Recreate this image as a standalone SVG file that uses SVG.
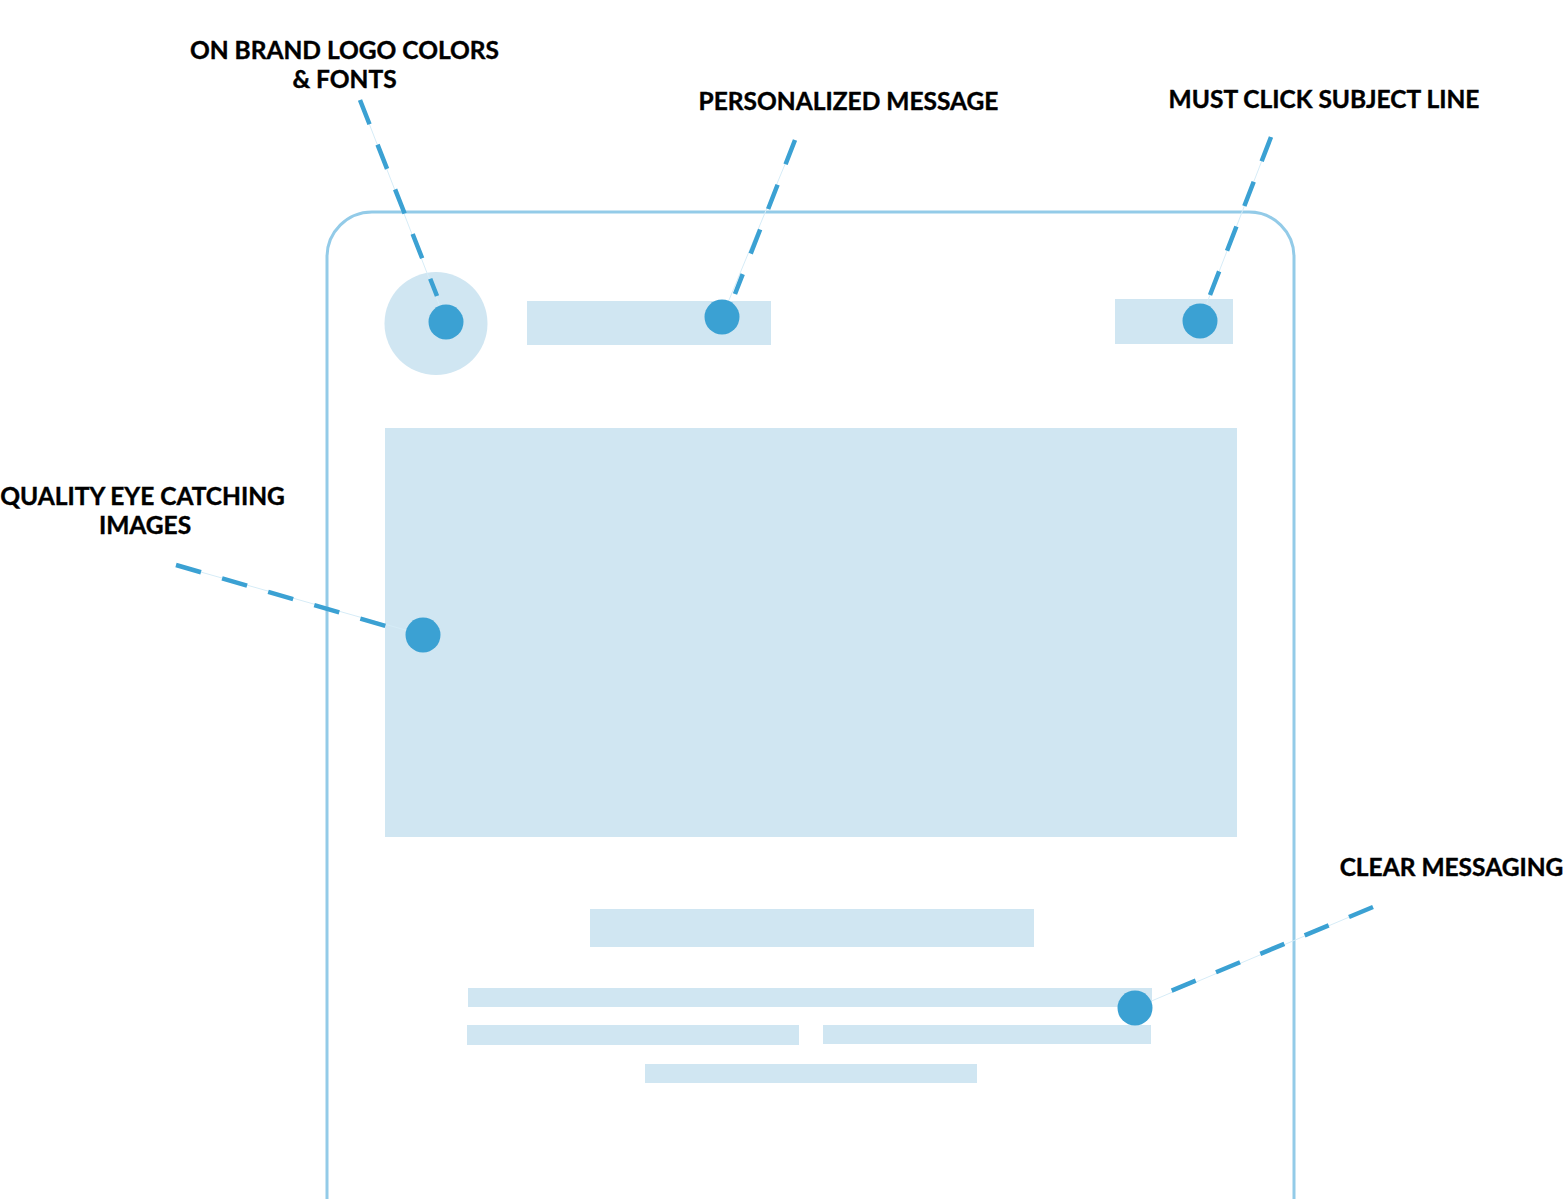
<svg xmlns="http://www.w3.org/2000/svg" width="1563" height="1199" viewBox="0 0 1563 1199">
<style>
.lbl{font-family:Lato,"Liberation Sans",sans-serif;font-weight:700;font-size:24.5px;fill:#000;text-anchor:middle;stroke:#000;stroke-width:0.4}
.blk{fill:#D0E6F2}
.dot{fill:#3BA1D3}
.lead{stroke:#3BA1D3;stroke-width:4.5;stroke-dasharray:26 22;fill:none}
.hair{stroke:#D6ECF7;stroke-width:1;fill:none}
</style>
<rect width="1563" height="1199" fill="#fff"/>
<g id="phone">
<path d="M327,1199 V257 A45,45 0 0 1 372,212 H1249 A45,45 0 0 1 1294,257 V1199" fill="none" stroke="#93CBE8" stroke-width="3"/>
</g>
<g id="blocks">
<circle id="logo" class="blk" cx="436" cy="323.5" r="51.5"/>
<rect id="message" class="blk" x="527" y="301" width="244" height="44"/>
<rect id="subject" class="blk" x="1115" y="299" width="118" height="45"/>
<rect id="image" class="blk" x="385" y="428" width="852" height="409"/>
<rect id="headline" class="blk" x="590" y="909" width="444" height="38"/>
<rect id="line1" class="blk" x="468" y="988" width="684" height="19"/>
<rect id="line2a" class="blk" x="467" y="1025" width="332" height="20"/>
<rect id="line2b" class="blk" x="823" y="1025" width="328" height="19"/>
<rect id="line3" class="blk" x="645" y="1064" width="332" height="19"/>
</g>
<g id="connectors">
<line class="hair" x1="360" y1="100" x2="446" y2="322"/>
<line class="lead" x1="360" y1="100" x2="437" y2="296"/>
<line class="hair" x1="795" y1="140" x2="722" y2="317"/>
<line class="lead" x1="795" y1="140" x2="735" y2="294"/>
<line class="hair" x1="1271" y1="137" x2="1200" y2="321"/>
<line class="lead" x1="1271" y1="137" x2="1210" y2="295"/>
<line class="hair" x1="176" y1="565" x2="423" y2="635"/>
<line class="lead" x1="176" y1="565" x2="403" y2="631"/>
<line class="hair" x1="1373" y1="907" x2="1135" y2="1008"/>
<line class="lead" x1="1373" y1="907" x2="1154" y2="998"/>
</g>
<g id="dots">
<circle class="dot" cx="446" cy="322" r="17.5"/>
<circle class="dot" cx="722" cy="317" r="17.5"/>
<circle class="dot" cx="1200" cy="321" r="17.5"/>
<circle class="dot" cx="423" cy="635" r="17.5"/>
<circle class="dot" cx="1135" cy="1008" r="17.5"/>
</g>
<g id="labels">
<text class="lbl" x="344.5" y="59">ON BRAND LOGO COLORS</text>
<text class="lbl" x="344.5" y="88">&amp; FONTS</text>
<text class="lbl" x="848.5" y="110">PERSONALIZED MESSAGE</text>
<text class="lbl" x="1324" y="108">MUST CLICK SUBJECT LINE</text>
<text class="lbl" x="142.5" y="505">QUALITY EYE CATCHING</text>
<text class="lbl" x="145" y="534">IMAGES</text>
<text class="lbl" x="1451.5" y="876">CLEAR MESSAGING</text>
</g>
</svg>
